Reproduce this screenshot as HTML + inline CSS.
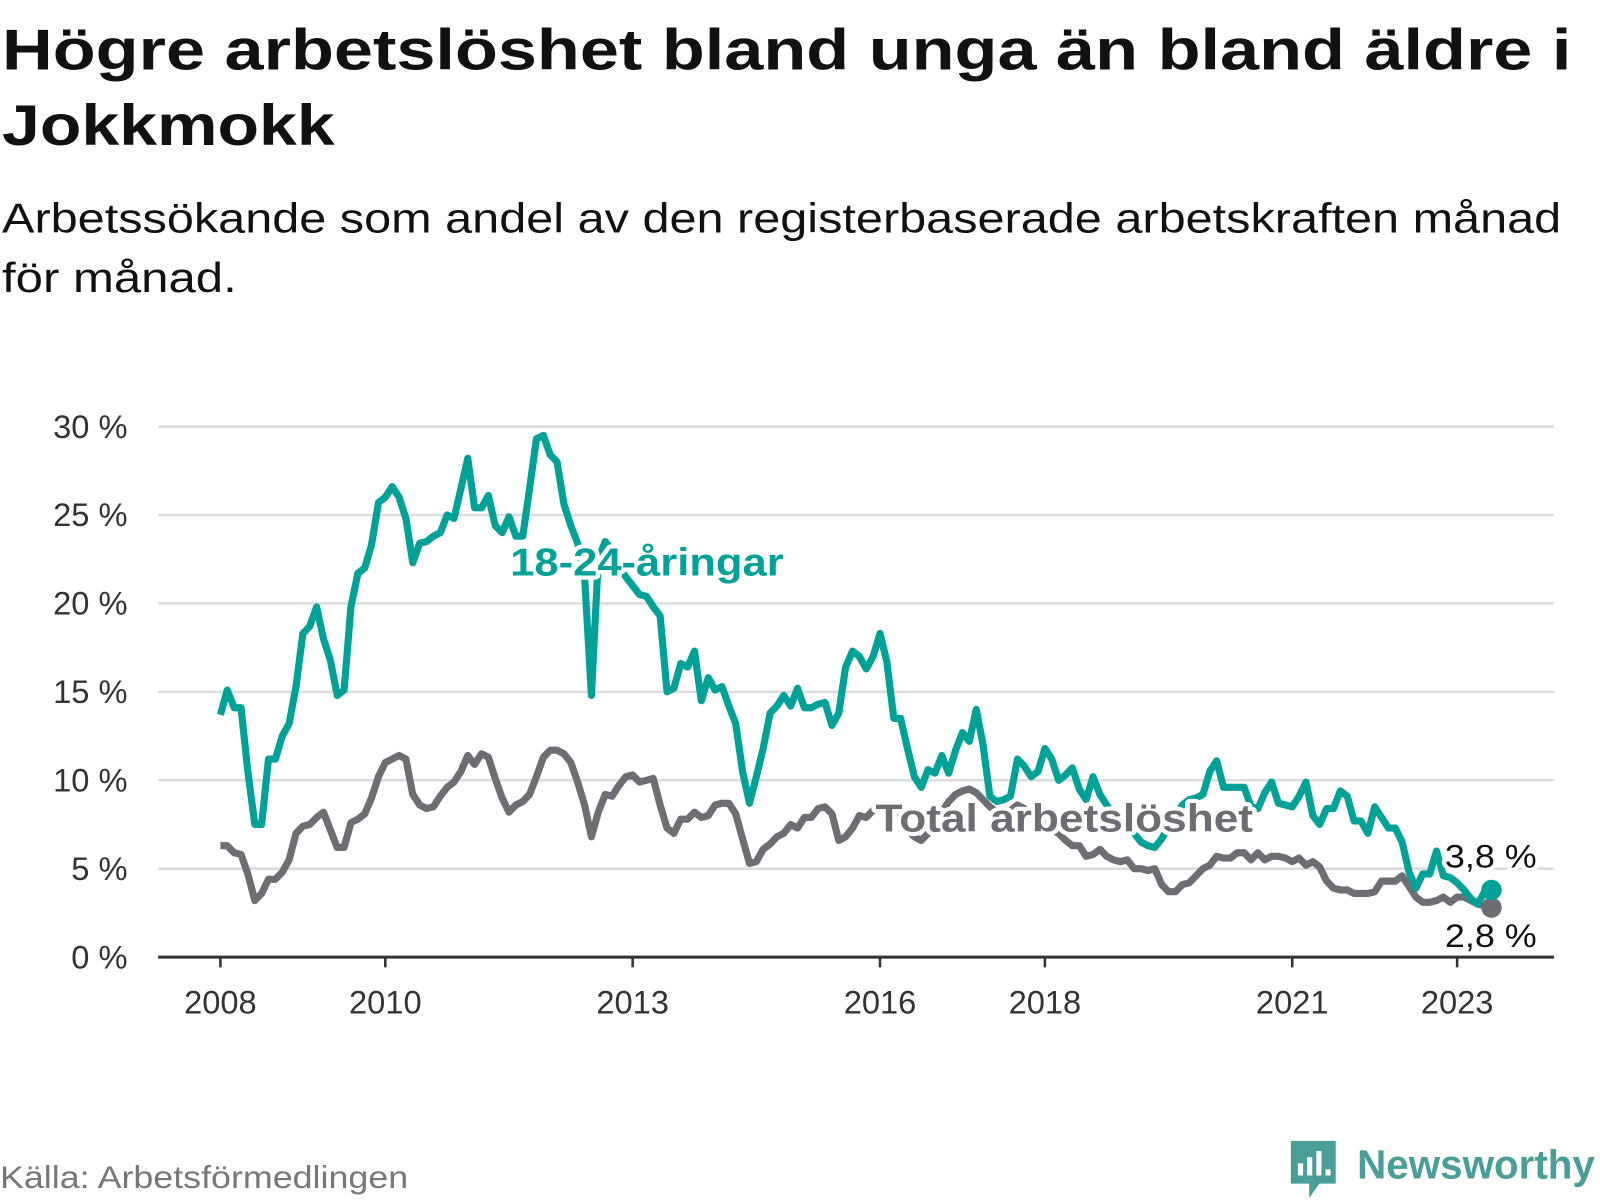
<!DOCTYPE html>
<html><head><meta charset="utf-8"><style>
html,body{margin:0;padding:0;background:#fff;}
svg{display:block;font-family:"Liberation Sans",sans-serif;}
</style></head><body>
<svg id="chart" width="1600" height="1200" viewBox="0 0 1568 1176">
<text x="2" y="68" font-size="56" font-weight="bold" fill="#111" textLength="1538" lengthAdjust="spacingAndGlyphs">Högre arbetslöshet bland unga än bland äldre i</text>
<text x="2" y="142" font-size="56" font-weight="bold" fill="#111" textLength="326" lengthAdjust="spacingAndGlyphs">Jokkmokk</text>
<text x="2" y="228" font-size="41" fill="#111" textLength="1528" lengthAdjust="spacingAndGlyphs">Arbetssökande som andel av den registerbaserade arbetskraften månad</text>
<text x="2" y="286" font-size="41" fill="#111" textLength="230" lengthAdjust="spacingAndGlyphs">för månad.</text>
<g id="grid"></g>
<g id="xaxis"></g>
<g id="series"></g>
<g id="labels"></g>
<text x="0" y="1164" font-size="31" fill="#777" textLength="400" lengthAdjust="spacingAndGlyphs">Källa: Arbetsförmedlingen</text>
<g>
<path d="M1265 1118 h44 v42 h-16 l-10 14 v-14 h-18 z" fill="#4a9e98"/>
<rect x="1272" y="1140" width="5" height="12" fill="#fff"/>
<rect x="1281" y="1134" width="5" height="18" fill="#fff"/>
<rect x="1290" y="1128" width="5" height="24" fill="#fff"/>
<rect x="1299" y="1146" width="5" height="6" fill="#fff"/>
<text x="1330" y="1155" font-size="40" font-weight="bold" fill="#4a9e98" textLength="233" lengthAdjust="spacingAndGlyphs">Newsworthy</text>
</g>
</svg>
<script>
const yTicks = [0,5,10,15,20,25,30];
const xTickYears = [2008,2010,2013,2016,2018,2021,2023];
const youth = [13.7,15.1,14.1,14.1,10.5,7.5,7.5,11.2,11.2,12.5,13.2,15.3,
18.3,18.7,19.8,18.0,16.8,14.8,15.1,19.8,21.7,22.0,23.3,25.7,
26.0,26.6,26.0,24.8,22.3,23.4,23.5,23.8,24.0,25.0,24.8,26.5,
28.2,25.4,25.4,26.1,24.4,24.0,24.9,23.8,23.8,26.5,29.3,29.5,
28.4,28.0,25.6,24.4,23.4,21.5,14.8,22.5,23.5,23.0,22.0,21.5,
21.0,20.5,20.4,19.8,19.3,15.0,15.2,16.6,16.4,17.3,14.5,15.8,
15.1,15.3,14.2,13.2,10.5,8.7,10.2,11.8,13.8,14.2,14.8,14.2,
15.2,14.1,14.1,14.3,14.4,13.1,13.8,16.4,17.3,17.0,16.3,17.0,
18.3,16.7,13.5,13.5,11.8,10.2,9.6,10.6,10.4,11.4,10.4,11.7,
12.7,12.2,14.0,12.0,9.1,8.8,8.9,9.1,11.2,10.8,10.2,10.5,
11.8,11.2,10.0,10.3,10.7,9.5,8.9,10.2,9.2,8.6,8.0,7.5,
7.5,7.0,6.5,6.3,6.2,6.7,7.4,8.0,8.6,8.9,9.0,9.2,
10.5,11.1,9.6,9.6,9.6,9.6,8.5,8.4,9.3,9.9,8.7,8.6,
8.5,9.1,9.9,8.0,7.5,8.4,8.4,9.4,9.1,7.7,7.7,7.0,
8.5,7.9,7.3,7.3,6.5,4.8,3.9,4.7,4.7,6.0,4.6,4.5,
4.2,3.8,3.3,3.0,3.7,3.8];
const total = [6.3,6.3,5.9,5.8,4.7,3.2,3.6,4.4,4.4,4.8,5.5,7.0,
7.4,7.5,7.9,8.2,7.2,6.2,6.2,7.6,7.8,8.1,9.0,10.2,
11.0,11.2,11.4,11.2,9.2,8.6,8.4,8.5,9.1,9.6,9.9,10.5,
11.4,10.9,11.5,11.3,10.1,9.0,8.2,8.6,8.8,9.2,10.2,11.3,
11.7,11.7,11.5,11.0,9.9,8.6,6.8,8.2,9.2,9.1,9.7,10.2,
10.3,9.9,10.0,10.1,8.6,7.3,7.0,7.8,7.8,8.2,7.9,8.0,
8.6,8.7,8.7,8.1,6.7,5.3,5.4,6.1,6.4,6.8,7.0,7.5,
7.3,7.9,7.9,8.4,8.5,8.1,6.6,6.8,7.3,8.0,7.9,8.3,
8.5,8.4,8.0,7.6,7.2,6.8,6.6,7.0,7.6,8.2,8.8,9.2,
9.4,9.5,9.3,8.9,8.5,8.2,8.0,8.3,8.6,8.4,8.0,7.8,
7.6,7.2,7.0,6.6,6.3,6.3,5.7,5.8,6.1,5.7,5.5,5.4,
5.5,5.0,5.0,4.9,5.0,4.1,3.7,3.7,4.1,4.2,4.6,5.0,
5.2,5.7,5.6,5.6,5.9,5.9,5.5,5.9,5.5,5.7,5.7,5.6,
5.4,5.6,5.2,5.4,5.1,4.3,3.9,3.8,3.8,3.6,3.6,3.6,
3.7,4.3,4.3,4.3,4.6,4.0,3.4,3.1,3.1,3.2,3.4,3.1,
3.4,3.4,3.2,3.0,2.9,2.8];
const startYear = 2008;

const NS='http://www.w3.org/2000/svg';
const X0=216, PXY=80.8, Y0=938, PXV=17.333;
function xScale(t){return X0+(t-startYear)*PXY;}
function yScale(v){return Y0-v*PXV;}
function mk(tag,attrs,parent){const e=document.createElementNS(NS,tag);for(const k in attrs)e.setAttribute(k,attrs[k]);parent.appendChild(e);return e;}

const grid=document.getElementById('grid');
yTicks.forEach(v=>{
  if(v>0){const l=mk('line',{x1:155,x2:1523,y1:yScale(v),y2:yScale(v),stroke:'#dcdcdc','stroke-width':2.5},grid);
  
  }
  const t=mk('text',{x:125,y:yScale(v)+11,'text-anchor':'end','font-size':32,fill:'#333'},grid);
  t.textContent=v+' %';
  
  
});
const xa=document.getElementById('xaxis');
const ax=mk('line',{x1:155,x2:1523,y1:Y0,y2:Y0,stroke:'#333','stroke-width':3},xa);


xTickYears.forEach(yr=>{
  const x=xScale(yr);
  const tk=mk('line',{x1:x,x2:x,y1:Y0,y2:Y0+10,stroke:'#333','stroke-width':2.5},xa);
  
  
  const t=mk('text',{x:x,y:993,'text-anchor':'middle','font-size':32,fill:'#333'},xa);
  t.textContent=yr;
  
  
});
const sg=document.getElementById('series');
function pts(arr){return arr.map((v,i)=>xScale(startYear+i/12).toFixed(1)+','+yScale(v).toFixed(1)).join(' ');}
const pt=mk('polyline',{points:pts(total),fill:'none',stroke:'#6e6d73','stroke-width':7,'stroke-linejoin':'round'},sg);


const py=mk('polyline',{points:pts(youth),fill:'none',stroke:'#00a298','stroke-width':7,'stroke-linejoin':'round'},sg);


const n=youth.length-1, xe=xScale(startYear+n/12);
const dt=mk('circle',{cx:xe,cy:yScale(total[n]),r:10,fill:'#6e6d73'},sg);


const dy=mk('circle',{cx:xe,cy:yScale(youth[n]),r:10,fill:'#00a298'},sg);



const lg=document.getElementById('labels');
function lab(txt,x,y,size,weight,fill,name,anchor,len){
  const extra=len?{textLength:len,lengthAdjust:'spacingAndGlyphs'}:{};
  const h=mk('text',Object.assign({x:x,y:y,'font-size':size,'font-weight':weight,fill:'none',stroke:'#fff','stroke-width':8,'stroke-linejoin':'round','text-anchor':anchor||'start'},extra),lg);
  h.textContent=txt;
  const t=mk('text',Object.assign({x:x,y:y,'font-size':size,'font-weight':weight,fill:fill,'text-anchor':anchor||'start'},extra),lg);
  t.textContent=txt;
  
  
}
lab('18-24-åringar',500,564,38,'bold','#00a298','youth-series-label','start',268);
lab('Total arbetslöshet',858,815,38,'bold','#6e6d73','total-series-label','start',370);
lab(String(youth[n]).replace('.',',')+' %',1506,850,32,'normal','#111','youth-end-value','end',90);
lab(String(total[n]).replace('.',',')+' %',1506,928,32,'normal','#111','total-end-value','end',90);
</script>
</body></html>
